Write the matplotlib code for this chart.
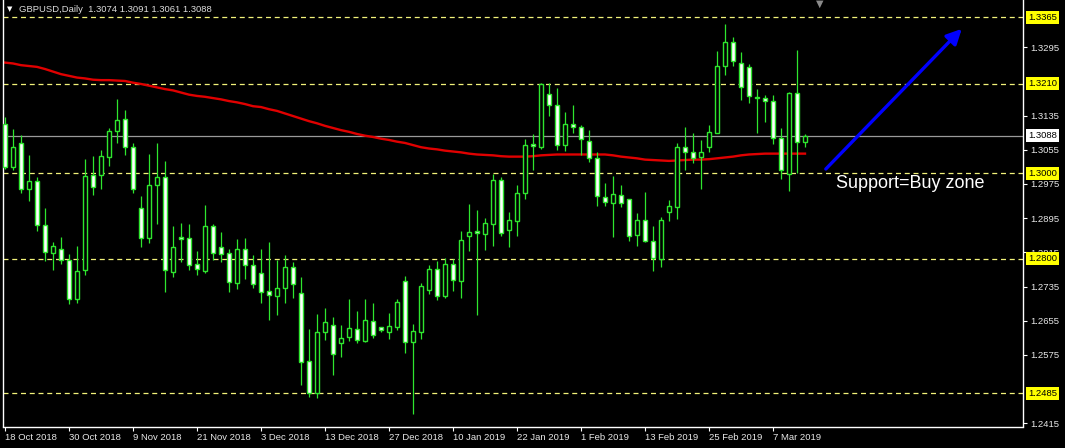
import matplotlib
matplotlib.use('Agg')
import matplotlib.pyplot as plt
from matplotlib.transforms import blended_transform_factory
import numpy as np

# ---------------- data ----------------
opens = [1.3115, 1.3015, 1.3070, 1.2964, 1.2981, 1.2880, 1.2814, 1.2824, 1.2796, 1.2707,
         1.2773, 1.2995, 1.2995, 1.3037, 1.3100, 1.3126, 1.3061, 1.2918, 1.2848, 1.2972,
         1.2991, 1.2770, 1.2851, 1.2848, 1.2787, 1.2771, 1.2876, 1.2827, 1.2813, 1.2743,
         1.2822, 1.2785, 1.2766, 1.2724, 1.2714, 1.2732, 1.2780, 1.2721, 1.2560, 1.2485,
         1.2628, 1.2644, 1.2602, 1.2616, 1.2635, 1.2608, 1.2654, 1.2640, 1.2629, 1.2641,
         1.2747, 1.2605, 1.2629, 1.2728, 1.2775, 1.2714, 1.2787, 1.2749, 1.2853, 1.2864,
         1.2859, 1.2882, 1.2984, 1.2868, 1.2889, 1.2955, 1.3068, 1.3062, 1.3185, 1.3159,
         1.3066, 1.3115, 1.3108, 1.3075, 1.3035, 1.2945, 1.2930, 1.2949, 1.2939, 1.2856,
         1.2890, 1.2842, 1.2799, 1.2909, 1.2922, 1.3061, 1.3049, 1.3037, 1.3061, 1.3094,
         1.3250, 1.3307, 1.3259, 1.3248, 1.3178, 1.3176, 1.3168, 1.3082, 1.2998, 1.3187,
         1.3074]
highs = [1.3132, 1.3103, 1.3090, 1.3042, 1.2991, 1.2919, 1.2839, 1.2851, 1.2810, 1.2830,
         1.3033, 1.3040, 1.3054, 1.3106, 1.3174, 1.3148, 1.3072, 1.2947, 1.3044, 1.3071,
         1.3029, 1.2877, 1.2883, 1.2881, 1.2818, 1.2926, 1.2881, 1.2863, 1.2822, 1.2846,
         1.2849, 1.2808, 1.2822, 1.2839, 1.2797, 1.2808, 1.2792, 1.2757, 1.2635, 1.2670,
         1.2685, 1.2664, 1.2644, 1.2706, 1.2677, 1.2706, 1.2696, 1.2641, 1.2672, 1.2706,
         1.2760, 1.2647, 1.2744, 1.2785, 1.2795, 1.2801, 1.2799, 1.2865, 1.2928, 1.2914,
         1.2895, 1.2999, 1.2991, 1.2909, 1.2973, 1.3080, 1.3091, 1.3211, 1.3211, 1.3199,
         1.3143, 1.3160, 1.3112, 1.3101, 1.3050, 1.2977, 1.2993, 1.2972, 1.2940, 1.2906,
         1.2956, 1.2877, 1.2898, 1.2937, 1.3070, 1.3108, 1.3094, 1.3077, 1.3112, 1.3285,
         1.3349, 1.3318, 1.3283, 1.3255, 1.3197, 1.3183, 1.3183, 1.3105, 1.3190, 1.3289,
         1.3091]
lows = [1.3010, 1.3008, 1.2955, 1.2934, 1.2864, 1.2795, 1.2774, 1.2788, 1.2693, 1.2697,
        1.2763, 1.2950, 1.2963, 1.3018, 1.3072, 1.3043, 1.2955, 1.2827, 1.2838, 1.2882,
        1.2723, 1.2758, 1.2793, 1.2774, 1.2761, 1.2767, 1.2797, 1.2793, 1.2723, 1.2730,
        1.2753, 1.2732, 1.2697, 1.2657, 1.2669, 1.2697, 1.2709, 1.2505, 1.2477, 1.2475,
        1.2609, 1.2529, 1.2569, 1.2608, 1.2604, 1.2606, 1.2615, 1.2629, 1.2613, 1.2634,
        1.2580, 1.2436, 1.2613, 1.2717, 1.2704, 1.2708, 1.2725, 1.2709, 1.2817, 1.2669,
        1.2821, 1.2831, 1.2854, 1.2828, 1.2854, 1.2941, 1.3008, 1.3057, 1.3135, 1.3055,
        1.3053, 1.3095, 1.3042, 1.3027, 1.2923, 1.2924, 1.2852, 1.2920, 1.2842, 1.2831,
        1.2840, 1.2771, 1.2781, 1.2889, 1.2894, 1.3008, 1.3025, 1.2964, 1.3049, 1.3094,
        1.3231, 1.3252, 1.3171, 1.3165, 1.3094, 1.3121, 1.3068, 1.2987, 1.2959, 1.3000,
        1.3061]
closes = [1.3014, 1.3061, 1.2963, 1.2981, 1.2878, 1.2815, 1.2829, 1.2796, 1.2707, 1.2771,
          1.2993, 1.2967, 1.3040, 1.3098, 1.3124, 1.3061, 1.2964, 1.2848, 1.2972, 1.2991,
          1.2773, 1.2827, 1.2846, 1.2785, 1.2775, 1.2877, 1.2813, 1.2810, 1.2745, 1.2822,
          1.2785, 1.2740, 1.2722, 1.2715, 1.2731, 1.2780, 1.2740, 1.2559, 1.2485, 1.2628,
          1.2651, 1.2578, 1.2614, 1.2637, 1.2609, 1.2656, 1.2622, 1.2633, 1.2642, 1.2698,
          1.2605, 1.2630, 1.2736, 1.2775, 1.2714, 1.2787, 1.2751, 1.2843, 1.2862, 1.2860,
          1.2883, 1.2984, 1.2861, 1.2890, 1.2953, 1.3066, 1.3063, 1.3210, 1.3159, 1.3066,
          1.3115, 1.3108, 1.3080, 1.3035, 1.2946, 1.2932, 1.2951, 1.2931, 1.2854, 1.2890,
          1.2842, 1.2801, 1.2890, 1.2923, 1.3061, 1.3049, 1.3035, 1.3049, 1.3096, 1.3250,
          1.3307, 1.3262, 1.3201, 1.3180, 1.3176, 1.3168, 1.3082, 1.3008, 1.3187, 1.3073,
          1.3088]
ma_line = [1.3259, 1.3257, 1.3253, 1.3251, 1.3249, 1.3244, 1.3238, 1.3232, 1.3228, 1.3224,
           1.3222, 1.3219, 1.3218, 1.3218, 1.3217, 1.3216, 1.3212, 1.3209, 1.3205, 1.3201,
           1.3197, 1.3194, 1.3189, 1.3184, 1.3181, 1.3179, 1.3176, 1.3173, 1.3169, 1.3166,
           1.3162, 1.3157, 1.3155, 1.3150, 1.3146, 1.3140, 1.3134, 1.3128, 1.3122, 1.3117,
           1.3111, 1.3106, 1.3101, 1.3097, 1.3092, 1.3088, 1.3085, 1.3081, 1.3078, 1.3074,
           1.3071, 1.3066, 1.3061, 1.3058, 1.3056, 1.3053, 1.3051, 1.3049, 1.3046, 1.3044,
           1.3043, 1.3042, 1.3040, 1.3039, 1.3039, 1.3039, 1.3040, 1.3042, 1.3043, 1.3044,
           1.3044, 1.3044, 1.3044, 1.3044, 1.3044, 1.3044, 1.3042, 1.3039, 1.3037, 1.3035,
           1.3032, 1.3031, 1.3030, 1.3029, 1.3030, 1.3031, 1.3032, 1.3032, 1.3033, 1.3035,
           1.3037, 1.3039, 1.3042, 1.3044, 1.3045, 1.3046, 1.3046, 1.3046, 1.3046, 1.3046,
           1.3046]

date_labels = ['18 Oct 2018', '30 Oct 2018', '9 Nov 2018', '21 Nov 2018', '3 Dec 2018',
               '13 Dec 2018', '27 Dec 2018', '10 Jan 2019', '22 Jan 2019', '1 Feb 2019',
               '13 Feb 2019', '25 Feb 2019', '7 Mar 2019']
date_label_bars = [0, 8, 16, 24, 32, 40, 48, 56, 64, 72, 80, 88, 96]

level_lines = [1.3365, 1.3210, 1.3000, 1.2800, 1.2485]
current_price = 1.3088
price_ticks = [1.3295, 1.3135, 1.3055, 1.2975, 1.2895, 1.2815, 1.2735, 1.2655, 1.2575, 1.2415]

title_text = 'GBPUSD,Daily  1.3074 1.3091 1.3061 1.3088'
note_text = 'Support=Buy zone'
note_pos = (103.9, 1.2977)
arrow_start = (102.6, 1.3010)
arrow_end = (119.6, 1.3338)

# ---------------- style ----------------
W, H, DPI = 1065, 448, 100
GREEN = '#2ee62e'
FONT = ['Liberation Sans', 'DejaVu Sans']
plt.rcParams['font.family'] = FONT

fig = plt.figure(figsize=(W / DPI, H / DPI), dpi=DPI, facecolor='black')
left_px, right_px, bottom_px, top_px = 3, 1023, 426.5, 0
ax = fig.add_axes([left_px / W, (H - bottom_px) / H, (right_px - left_px) / W, (bottom_px - top_px) / H])
ax.set_facecolor('black')

n = len(opens)
x = np.arange(n)
o = np.array(opens); c = np.array(closes); h = np.array(highs); l = np.array(lows)

# horizontal levels
for lv in level_lines:
    ax.axhline(lv, color='#f2f27a', lw=0.9, dashes=(4, 3), zorder=1)
ax.axhline(current_price, color='#9a9a9a', lw=0.9, zorder=1)

# moving average
ax.plot(x, ma_line, color='#e00000', lw=1.7, zorder=2)

# candles
ax.vlines(x, l, h, color=GREEN, lw=0.9, zorder=3)
bull = c >= o
body_bottom = np.minimum(o, c)
body_h = np.maximum(np.abs(c - o), 0.00008)
ax.bar(x[bull], body_h[bull], bottom=body_bottom[bull], width=0.5,
       color='black', edgecolor=GREEN, linewidth=1.0, zorder=4)
ax.bar(x[~bull], body_h[~bull], bottom=body_bottom[~bull], width=0.5,
       color='white', edgecolor=GREEN, linewidth=1.0, zorder=4)

# arrow and note
ax.annotate('', xy=arrow_end, xytext=arrow_start,
            arrowprops=dict(arrowstyle='-|>,head_length=0.9,head_width=0.45',
                            color='#0000ff', lw=2.4, shrinkA=0, shrinkB=0),
            zorder=6)
ax.text(note_pos[0], note_pos[1], note_text, color='white', fontsize=13,
        ha='left', va='center', zorder=6)

# limits
ax.set_xlim(-0.25, 127.25)
ax.set_ylim(1.24075, 1.34055)

# spines
for s in ['left', 'bottom', 'right']:
    ax.spines[s].set_color('white')
    ax.spines[s].set_linewidth(1.0)
ax.spines['top'].set_visible(False)

# x ticks
ax.set_xticks(date_label_bars)
ax.set_xticklabels(date_labels)
ax.tick_params(axis='x', colors='white', length=3, width=0.8, pad=1.5, labelsize=6.8)
for lab in ax.get_xticklabels():
    lab.set_ha('left')
    lab.set_color('#e8e8e8')

# y ticks on the right
ax.yaxis.tick_right()
ax.set_yticks(price_ticks)
ax.set_yticklabels([f'{v:.4f}' for v in price_ticks])
ax.tick_params(axis='y', colors='white', length=3, width=0.8, pad=2.5, labelsize=6.8)
for lab in ax.get_yticklabels():
    lab.set_color('#e8e8e8')

# highlighted price boxes
trans = blended_transform_factory(ax.transAxes, ax.transData)
box_x = 1 + 5.0 / (right_px - left_px)
for lv in level_lines:
    ax.text(box_x, lv, f'{lv:.4f}', transform=trans, fontsize=6.8, color='black',
            ha='left', va='center', zorder=10, clip_on=False,
            bbox=dict(boxstyle='square,pad=0.22', fc='#ffff00', ec='none'))
ax.text(box_x, current_price, f'{current_price:.4f}', transform=trans, fontsize=6.8,
        color='black', ha='left', va='center', zorder=10, clip_on=False,
        bbox=dict(boxstyle='square,pad=0.22', fc='white', ec='none'))

# title and markers
fig.text(19 / W, 1 - 9 / H, title_text, color='#dcdcdc', fontsize=6.8, ha='left', va='center')
fig.text(10 / W, 1 - 9 / H, '\u25bc', color='white', fontsize=5, ha='center', va='center',
         family=['DejaVu Sans'])
fig.text(820 / W, 1 - 4 / H, '\u25bc', color='#8a8a8a', fontsize=7, ha='center', va='center',
         family=['DejaVu Sans'])

fig.savefig('out.png', dpi=DPI, facecolor='black')
